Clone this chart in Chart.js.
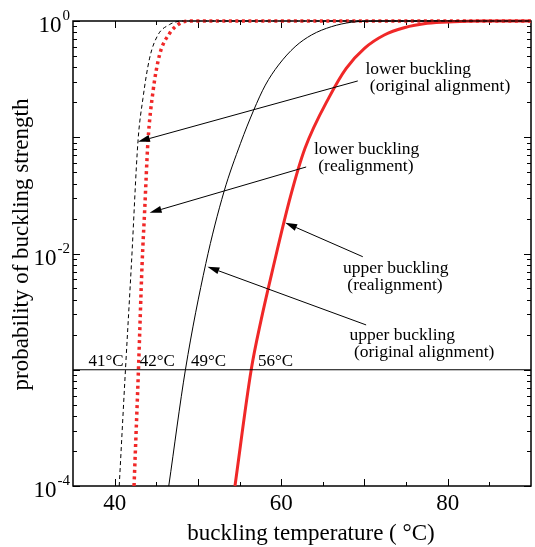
<!DOCTYPE html>
<html>
<head>
<meta charset="utf-8">
<script src="https://cdn.jsdelivr.net/npm/chart.js@4.4.0/dist/chart.umd.min.js"></script>
<style>
  body { margin: 0; background: #fff; }
  #wrap { width: 535px; height: 547px; }
</style>
</head>
<body>
<div id="wrap"><canvas id="chart" width="535" height="547"></canvas></div>
<script>
const SERIF = "'Liberation Serif', 'Times New Roman', serif";
const RED = '#f02828';

// curves: temperature (°C) and cumulative probability
const lowerOrigT = [40.55, 41.3, 42.02, 42.8, 43.4, 44.2, 45.2, 46.6, 47.3, 48.0, 90];
const lowerOrigP = [1e-4, 1e-3, 0.0082, 0.0916, 0.216, 0.479, 0.758, 0.933, 0.98, 1, 1];

const lowerReT = [42.33, 42.86, 43.3, 43.6, 44.0, 44.6, 45.4, 46.6, 47.6, 48.4, 49.5, 90];
const lowerReP = [1e-4, 1e-3, 0.0082, 0.0229, 0.0912, 0.245, 0.513, 0.783, 0.93, 0.99, 1, 1];

const upperOrigT = [46.5, 48.5, 50.95, 53.13, 55.12, 56.7, 58.1, 59.68, 61.67, 63.64, 66.02, 68.4, 70.5, 72.5, 90];
const upperOrigP = [1e-4, 1e-3, 0.0082, 0.034, 0.0887, 0.171, 0.281, 0.418, 0.601, 0.758, 0.893, 0.975, 0.997, 1, 1];

const upperReT = [54.45, 56.4, 57.6, 58.96, 61.11, 62.86, 65.83, 67.81, 70.0, 72.38, 74.76, 77.54, 80.7, 84.0, 90];
const upperReP = [1e-4, 1e-3, 0.0027, 0.0072, 0.0308, 0.0803, 0.226, 0.392, 0.582, 0.758, 0.875, 0.955, 0.986, 0.998, 1];

const threshold = 1e-3;
const xRange = [35, 90];
const xLabeled = [40, 60, 80];
const yLabeled = [1, 1e-2, 1e-4];
const yLabelExp = ['0', '-2', '-4'];
const xTitle = 'buckling temperature ( °C)';
const yTitle = 'probability of buckling strength';

// temperatures where curves cross the 1e-3 line
const tempLabels = ['41°C', '42°C', '49°C', '56°C'];
const tempLabelT = [36.86, 43.01, 49.17, 57.21];

// annotation texts (left edge temperature, first baseline probability)
const noteLines = [
  ['lower buckling', ' (original alignment)'],
  ['lower buckling', ' (realignment)'],
  ['upper buckling', ' (realignment)'],
  ['upper buckling', ' (original alignment)']
];
const noteT = [70.12, 63.93, 67.42, 68.21];
const noteP = [0.35, 0.0718, 0.00676, 0.0018];

// arrows from notes to curves
const arrowTailT = [69.2, 63.0, 69.8, 70.2];
const arrowTailP = [0.305, 0.0555, 0.00938, 0.00243];
const arrowTipT = [42.8, 44.2, 60.48, 51.14];
const arrowTipP = [0.0916, 0.0224, 0.0184, 0.0077];

const pts = (t, p) => t.map((v, i) => ({ x: v, y: p[i] }));

const framePlugin = {
  id: 'frame',
  beforeDatasetsDraw(chart) {
    const { ctx, chartArea: a } = chart;
    const xs = chart.scales.x, ys = chart.scales.y;
    ctx.save();
    ctx.strokeStyle = '#000';
    ctx.lineWidth = 1.5;
    ctx.strokeRect(a.left, a.top, a.right - a.left, a.bottom - a.top);
    ctx.lineWidth = 1;
    ctx.beginPath();
    for (let v = xRange[0] + 5; v < xRange[1]; v += 5) {
      const px = Math.round(xs.getPixelForValue(v)) + 0.5;
      const len = v % 10 === 0 ? 7 : 4;
      ctx.moveTo(px, a.bottom); ctx.lineTo(px, a.bottom - len);
      ctx.moveTo(px, a.top); ctx.lineTo(px, a.top + len);
    }
    for (let e = -4; e <= 0; e++) {
      for (let m = 1; m <= 9; m++) {
        const v = m * Math.pow(10, e);
        if (v > 1) break;
        const py = Math.round(ys.getPixelForValue(v)) + 0.5;
        const len = m === 1 ? 7 : 4;
        ctx.moveTo(a.left, py); ctx.lineTo(a.left + len, py);
        ctx.moveTo(a.right, py); ctx.lineTo(a.right - len, py);
      }
    }
    ctx.stroke();
    ctx.restore();
  },
  afterDatasetsDraw(chart) {
    const { ctx, chartArea: a } = chart;
    const xs = chart.scales.x, ys = chart.scales.y;
    ctx.save();
    ctx.fillStyle = '#000';
    ctx.strokeStyle = '#000';
    ctx.textBaseline = 'alphabetic';

    // axis titles
    ctx.font = '23px ' + SERIF;
    ctx.textAlign = 'center';
    ctx.fillText(xTitle, (a.left + a.right) / 2 + 9, 540);
    ctx.save();
    ctx.translate(28, (a.top + a.bottom) / 2 - 9);
    ctx.rotate(-Math.PI / 2);
    ctx.fillText(yTitle, 0, 0);
    ctx.restore();

    // y tick labels with superscript exponents
    yLabeled.forEach((v, i) => {
      const py = ys.getPixelForValue(v);
      ctx.textAlign = 'right';
      ctx.font = '15px ' + SERIF;
      const sw = ctx.measureText(yLabelExp[i]).width;
      ctx.fillText(yLabelExp[i], 70, py - 1);
      ctx.font = '23px ' + SERIF;
      ctx.fillText('10', 70 - sw - 1, py + 11);
    });

    // temperature labels above the threshold line
    ctx.font = '17px ' + SERIF;
    ctx.textAlign = 'left';
    const ty = ys.getPixelForValue(threshold) - 3.5;
    tempLabels.forEach((s, i) => ctx.fillText(s, xs.getPixelForValue(tempLabelT[i]), ty));

    // notes
    ctx.font = '17.5px ' + SERIF;
    noteLines.forEach((lines, i) => {
      const x0 = xs.getPixelForValue(noteT[i]);
      const y0 = ys.getPixelForValue(noteP[i]);
      lines.forEach((s, j) => ctx.fillText(s, x0, y0 + j * 17));
    });

    // arrows
    ctx.lineWidth = 1;
    arrowTipT.forEach((t, i) => {
      const x1 = xs.getPixelForValue(arrowTailT[i]), y1 = ys.getPixelForValue(arrowTailP[i]);
      const x2 = xs.getPixelForValue(t), y2 = ys.getPixelForValue(arrowTipP[i]);
      const ang = Math.atan2(y2 - y1, x2 - x1);
      const hl = 12, hw = 3.5;
      ctx.beginPath();
      ctx.moveTo(x1, y1);
      ctx.lineTo(x2 - hl * Math.cos(ang), y2 - hl * Math.sin(ang));
      ctx.stroke();
      ctx.beginPath();
      ctx.moveTo(x2, y2);
      ctx.lineTo(x2 - hl * Math.cos(ang) + hw * Math.sin(ang), y2 - hl * Math.sin(ang) - hw * Math.cos(ang));
      ctx.lineTo(x2 - hl * Math.cos(ang) - hw * Math.sin(ang), y2 - hl * Math.sin(ang) + hw * Math.cos(ang));
      ctx.closePath();
      ctx.fill();
    });
    ctx.restore();
  }
};

const lineBase = { pointRadius: 0, fill: false, cubicInterpolationMode: 'monotone', clip: 4 };

new Chart(document.getElementById('chart'), {
  type: 'line',
  data: {
    datasets: [
      { ...lineBase, label: 'threshold', data: pts(xRange, [threshold, threshold]),
        borderColor: '#000', borderWidth: 1.2, cubicInterpolationMode: 'default' },
      { ...lineBase, label: 'lower buckling (original alignment)', data: pts(lowerOrigT, lowerOrigP),
        borderColor: '#000', borderWidth: 1, borderDash: [4, 3] },
      { ...lineBase, label: 'upper buckling (original alignment)', data: pts(upperOrigT, upperOrigP),
        borderColor: '#000', borderWidth: 1 },
      { ...lineBase, label: 'upper buckling (realignment)', data: pts(upperReT, upperReP),
        borderColor: RED, borderWidth: 3 },
      { ...lineBase, label: 'lower buckling (realignment)', data: pts(lowerReT, lowerReP),
        borderColor: RED, borderWidth: 3.5, borderDash: [3, 3.5] }
    ]
  },
  options: {
    responsive: false,
    animation: false,
    layout: { padding: { top: 21, right: 2, left: 0, bottom: 0 } },
    plugins: { legend: { display: false }, tooltip: { enabled: false } },
    scales: {
      x: {
        type: 'linear',
        min: xRange[0],
        max: xRange[1],
        grid: { display: false, drawTicks: false },
        border: { display: false },
        ticks: {
          stepSize: 5,
          autoSkip: false,
          maxRotation: 0,
          padding: 4,
          color: '#000',
          font: { family: SERIF, size: 23 },
          callback: v => (xLabeled.includes(v) ? String(v) : '')
        },
        title: { display: false },
        afterFit(scale) { scale.height = 61; }
      },
      y: {
        type: 'logarithmic',
        min: 1e-4,
        max: 1,
        grid: { display: false, drawTicks: false },
        border: { display: false },
        ticks: { display: false },
        title: { display: false },
        afterFit(scale) { scale.width = 73; }
      }
    }
  },
  plugins: [framePlugin]
});
</script>
</body>
</html>
